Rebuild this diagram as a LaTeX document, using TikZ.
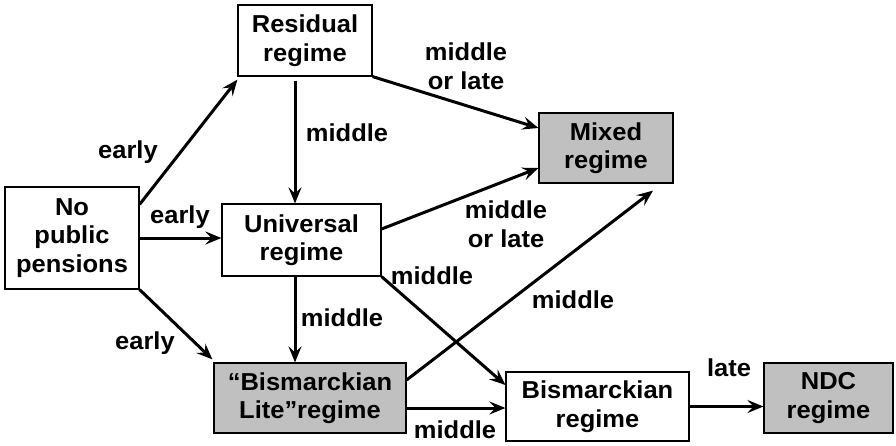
\documentclass[tikz,border=0pt]{standalone}
\usepackage{fontspec}
\setmainfont{Liberation Sans}[FakeStretch=1.04]
\usetikzlibrary{arrows.meta}
\definecolor{boxgray}{HTML}{C0C0C0}
\tikzset{
  regime/.style={draw=black, line width=1.2pt, align=center, inner sep=0pt,
    font=\fontsize{24.5}{28.5}\selectfont\bfseries},
  grayregime/.style={regime, fill=boxgray},
  lbl/.style={align=center, inner sep=0pt, font=\fontsize{24.5}{28.5}\selectfont\bfseries},
  arr/.style={line width=3pt, -{Stealth[length=16pt,width=13pt,inset=6pt]}}
}
\begin{document}
\begin{tikzpicture}[x=1pt,y=-1pt]
\useasboundingbox[fill=white] (0,0) rectangle (896,445);
% boxes
\node[regime, minimum width=134pt, minimum height=102pt] (np) at (72,238) {No\\public\\pensions};
\node[regime, minimum width=134pt, minimum height=71pt] (res) at (305,40.5) {Residual\\regime};
\node[regime, minimum width=159pt, minimum height=72pt] (uni) at (301.5,240) {Universal\\regime};
\node[grayregime, minimum width=134pt, minimum height=70pt] (mix) at (606,148) {Mixed\\regime};
\node[grayregime, minimum width=192pt, minimum height=70pt] (lite) at (310,398) {“Bismarckian\\Lite”regime};
\node[regime, minimum width=183pt, minimum height=69pt] (bism) at (597.5,406.5) {Bismarckian\\regime};
\node[grayregime, minimum width=129pt, minimum height=70pt] (ndc) at (828.5,398) {NDC\\regime};
% connectors
\draw[arr] ([yshift=-18pt]np.north east) -- ([xshift=0pt,yshift=-3pt]res.south west);
\draw[arr] (np.east) -- (np.east -| uni.west);
\draw[arr] (np.south east) -- ([xshift=-1pt,yshift=3pt]lite.north west);
\draw[arr] ([xshift=-10pt,yshift=-4pt]res.south) -- ([xshift=-10pt]res.south |- uni.north);
\draw[arr] (res.south east) -- ([yshift=20pt]mix.west);
\draw[arr] ([yshift=11pt]uni.east) -- ([yshift=-20pt]mix.west);
\draw[arr] ([xshift=-6.5pt]uni.south) -- ([xshift=-6.5pt]uni.south |- lite.north);
\draw[arr] (uni.south east) -- ([yshift=21.5pt]bism.west);
\draw[arr] ([yshift=18pt]lite.east) -- ([xshift=47pt,yshift=-7pt]mix.south);
\draw[arr] ([yshift=-10pt]lite.east) -- ([yshift=-10pt]lite.east -| bism.west);
\draw[arr] (bism.east) -- (bism.east -| ndc.west);
% labels
\node[lbl] (l1) at (128,152) {early};
\node[lbl] (l2) at (180,217) {early};
\node[lbl] (l3) at (145,343) {early};
\node[lbl] (l4) at (347,133) {middle};
\node[lbl] (l5) at (466,66) {middle\\or late};
\node[lbl] (l6) at (506,224) {middle\\or late};
\node[lbl] (l7) at (432,276) {middle};
\node[lbl] (l8) at (342,318) {middle};
\node[lbl] (l9) at (573,300) {middle};
\node[lbl] (l10) at (455,430) {middle};
\node[lbl] (l11) at (729,368) {late};
\end{tikzpicture}
\end{document}
